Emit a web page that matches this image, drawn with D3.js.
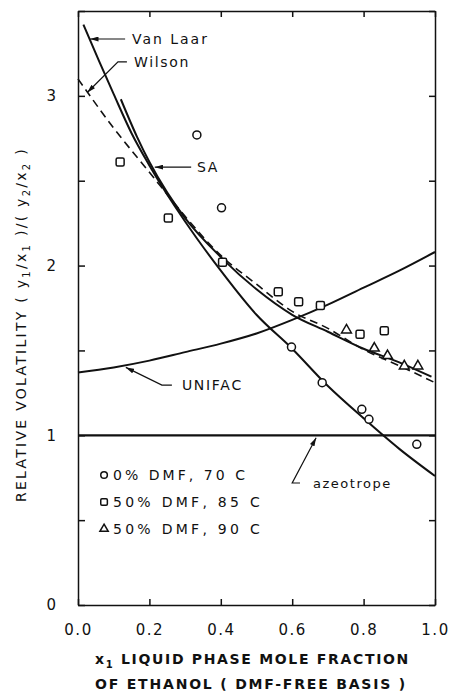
<!DOCTYPE html>
<html>
<head>
<meta charset="utf-8">
<script src="https://cdn.jsdelivr.net/npm/d3@7"></script>
<style>
  body { margin: 0; background: #fff; }
  text { font-family: "DejaVu Sans", "Liberation Sans", Arial, sans-serif; fill: #111; }
  .axis path, .axis line { stroke: #111; stroke-width: 1.5; }
  .axis text { font-size: 15px; font-family: "DejaVu Sans", "Liberation Sans", Arial, sans-serif; fill: #111; }
</style>
</head>
<body>
<div id="chart-area"></div>
<script>

// Curves (x1 = ethanol mole fraction, y = relative volatility)
var vanLaarX = [0.015, 0.06, 0.10, 0.15, 0.20, 0.30, 0.40, 0.50, 0.60, 0.70, 0.80, 0.90, 1.00];
var vanLaarY = [3.42, 3.20, 3.01, 2.78, 2.59, 2.26, 1.97, 1.71, 1.51, 1.29, 1.10, 0.92, 0.76];

var wilsonX = [0.00, 0.10, 0.20, 0.30, 0.40, 0.50, 0.60, 0.70, 0.80, 0.90, 1.00];
var wilsonY = [3.10, 2.81, 2.55, 2.29, 2.06, 1.89, 1.73, 1.63, 1.505, 1.41, 1.31];

var saX = [0.12, 0.165, 0.20, 0.25, 0.30, 0.40, 0.50, 0.60, 0.70, 0.80, 0.90, 0.99];
var saY = [2.98, 2.76, 2.61, 2.43, 2.28, 2.05, 1.86, 1.71, 1.61, 1.51, 1.43, 1.345];

var unifacX = [0.00, 0.10, 0.20, 0.30, 0.40, 0.50, 0.60, 0.70, 0.80, 0.90, 1.00];
var unifacY = [1.37, 1.40, 1.44, 1.49, 1.54, 1.60, 1.68, 1.77, 1.87, 1.97, 2.08];

var azeotropeY = 1;

// Experimental points
var dmf0X = [0.333, 0.402, 0.598, 0.684, 0.795, 0.815, 0.949];
var dmf0Y = [2.77, 2.34, 1.52, 1.31, 1.153, 1.094, 0.947];

var dmf50aX = [0.118, 0.253, 0.405, 0.561, 0.618, 0.679, 0.790, 0.858];
var dmf50aY = [2.61, 2.28, 2.02, 1.846, 1.787, 1.765, 1.595, 1.616];

var dmf50bX = [0.752, 0.830, 0.867, 0.914, 0.952];
var dmf50bY = [1.62, 1.513, 1.469, 1.408, 1.408];

var legendLabels = ["0% DMF, 70 C", "50% DMF, 85 C", "50% DMF, 90 C"];
var xTicks = [0, 0.2, 0.4, 0.6, 0.8, 1.0];
var yTicks = [0, 0.5, 1, 1.5, 2, 2.5, 3, 3.5];

var width = 450,
    height = 693;

var svg = d3.select("#chart-area").append("svg")
    .attr("width", width)
    .attr("height", height);

var x = d3.scaleLinear().domain([0, 1]).range([78, 435]);
var y = d3.scaleLinear().domain([0, 3.5]).range([605, 11]);

// stretch a text element to a wanted width with letter spacing
function fitText(t, target) {
    t.attr("letter-spacing", 0);
    var w = t.node().getComputedTextLength();
    var n = t.text().length;
    t.attr("letter-spacing", (target - w) / n);
}

// Axes, ticks pointing inward
svg.append("g").attr("class", "axis")
    .attr("transform", "translate(0," + y(0) + ")")
    .call(d3.axisBottom(x).tickValues(xTicks).tickSize(-6).tickSizeOuter(0)
        .tickPadding(19).tickFormat(d3.format(".1f")))
    .selectAll("text").attr("letter-spacing", 1.5);

svg.append("g").attr("class", "axis")
    .attr("transform", "translate(0," + y(3.5) + ")")
    .call(d3.axisTop(x).tickValues(xTicks).tickSize(-6).tickSizeOuter(0).tickFormat(""));

svg.append("g").attr("class", "axis")
    .attr("transform", "translate(" + x(0) + ",0)")
    .call(d3.axisLeft(y).tickValues(yTicks).tickSize(-7).tickSizeOuter(0).tickPadding(22)
        .tickFormat(function(d) { return d % 1 === 0 && d < 3.5 ? d : ""; }));

svg.append("g").attr("class", "axis")
    .attr("transform", "translate(" + x(1) + ",0)")
    .call(d3.axisRight(y).tickValues(yTicks).tickSize(-6).tickSizeOuter(0).tickFormat(""));

// Arrow head
svg.append("defs").append("marker")
    .attr("id", "arrow")
    .attr("viewBox", "0 0 10 6")
    .attr("refX", 10).attr("refY", 3)
    .attr("markerWidth", 9).attr("markerHeight", 5)
    .attr("markerUnits", "userSpaceOnUse")
    .attr("orient", "auto")
    .append("path").attr("d", "M0,0L10,3L0,6Z").attr("fill", "#111");

// Curves
var line = d3.line()
    .x(function(d) { return x(d[0]); })
    .y(function(d) { return y(d[1]); })
    .curve(d3.curveMonotoneX);

function pairs(xs, ys) { return xs.map(function(v, i) { return [v, ys[i]]; }); }

svg.append("line")
    .attr("x1", x(0)).attr("x2", x(1))
    .attr("y1", y(azeotropeY)).attr("y2", y(azeotropeY))
    .attr("stroke", "#111").attr("stroke-width", 2.2);

var curves = [
    { pts: pairs(vanLaarX, vanLaarY), dash: null },
    { pts: pairs(saX, saY), dash: null },
    { pts: pairs(wilsonX, wilsonY), dash: "8,5" },
    { pts: pairs(unifacX, unifacY), dash: null }
];

svg.selectAll(".curve")
    .data(curves)
    .enter()
    .append("path")
    .attr("class", "curve")
    .attr("d", function(d) { return line(d.pts); })
    .attr("fill", "none")
    .attr("stroke", "#111")
    .attr("stroke-width", function(d) { return d.dash ? 1.6 : 2; })
    .attr("stroke-dasharray", function(d) { return d.dash; });

// Points
var pointStyle = function(sel) {
    sel.attr("fill", "#fff").attr("stroke", "#111").attr("stroke-width", 1.5);
};

svg.selectAll(".p0")
    .data(pairs(dmf0X, dmf0Y))
    .enter().append("circle")
    .attr("cx", function(d) { return x(d[0]); })
    .attr("cy", function(d) { return y(d[1]); })
    .attr("r", 4)
    .call(pointStyle);

svg.selectAll(".p50a")
    .data(pairs(dmf50aX, dmf50aY))
    .enter().append("rect")
    .attr("x", function(d) { return x(d[0]) - 4; })
    .attr("y", function(d) { return y(d[1]) - 4; })
    .attr("width", 8).attr("height", 8).attr("rx", 1.5)
    .call(pointStyle);

var tri = d3.symbol().type(d3.symbolTriangle).size(42);
svg.selectAll(".p50b")
    .data(pairs(dmf50bX, dmf50bY))
    .enter().append("path")
    .attr("d", tri)
    .attr("transform", function(d) { return "translate(" + x(d[0]) + "," + y(d[1]) + ")"; })
    .call(pointStyle);

// Legend
var legY = [0.766, 0.607, 0.448];
var legX = 0.073;
svg.append("circle").attr("cx", x(legX)).attr("cy", y(legY[0])).attr("r", 3.3).call(pointStyle);
svg.append("rect").attr("x", x(legX) - 3.3).attr("y", y(legY[1]) - 3.3)
    .attr("width", 6.6).attr("height", 6.6).attr("rx", 1.2).call(pointStyle);
svg.append("path").attr("d", d3.symbol().type(d3.symbolTriangle).size(30))
    .attr("transform", "translate(" + x(legX) + "," + y(legY[2]) + ")").call(pointStyle);

var legW = [135, 150, 150];
legendLabels.forEach(function(s, i) {
    var t = svg.append("text")
        .attr("x", x(0.098)).attr("y", y(legY[i]))
        .attr("dy", "0.36em")
        .attr("font-size", 14)
        .text(s);
    fitText(t, legW[i]);
});

// Curve labels with arrows (anchors in data units)
var notes = [
    { label: "Van Laar", tx: 0.151, ty: 3.335, w: 77, size: 14,
      path: [[0.132, 3.335], [0.034, 3.335]] },
    { label: "Wilson", tx: 0.157, ty: 3.20, w: 56, size: 14,
      path: [[0.137, 3.20], [0.112, 3.20], [0.026, 3.02]] },
    { label: "SA", tx: 0.333, ty: 2.58, w: 22, size: 14,
      path: [[0.317, 2.58], [0.215, 2.58]] },
    { label: "UNIFAC", tx: 0.291, ty: 1.296, w: 61, size: 14,
      path: [[0.263, 1.296], [0.235, 1.296], [0.134, 1.40]] },
    { label: "azeotrope", tx: 0.658, ty: 0.715, w: 79, size: 13,
      path: [[0.622, 0.719], [0.600, 0.719], [0.667, 0.985]] }
];

var straight = d3.line()
    .x(function(d) { return x(d[0]); })
    .y(function(d) { return y(d[1]); });

notes.forEach(function(n) {
    svg.append("path")
        .attr("d", straight(n.path))
        .attr("fill", "none")
        .attr("stroke", "#111")
        .attr("stroke-width", 1.2)
        .attr("marker-end", "url(#arrow)");
    var t = svg.append("text")
        .attr("x", x(n.tx)).attr("y", y(n.ty))
        .attr("dy", "0.36em")
        .attr("font-size", n.size)
        .text(n.label);
    fitText(t, n.w);
});

// Axis titles
function subText(t, parts, target) {
    parts.forEach(function(p) {
        var s = t.append("tspan").text(p[0]);
        if (p[1]) s.attr("font-size", 10).attr("dy", 4);
        if (p[2]) s.attr("dy", -4);
    });
    var w = t.node().getComputedTextLength();
    var n = t.text().length;
    t.attr("letter-spacing", (target - w) / n);
}

var xt1 = svg.append("text").attr("x", 95).attr("y", 664)
    .attr("font-size", 14).attr("font-weight", "bold");
subText(xt1, [["x"], ["1", true], [" LIQUID PHASE MOLE FRACTION", false, true]], 315);

var xt2 = svg.append("text").attr("x", 95).attr("y", 689)
    .attr("font-size", 14).attr("font-weight", "bold");
subText(xt2, [["OF ETHANOL ( DMF-FREE BASIS )"]], 312);

var yt = svg.append("text")
    .attr("transform", "translate(26,502) rotate(-90)")
    .attr("font-size", 14);
subText(yt, [["RELATIVE VOLATILITY ( y"], ["1", true], ["/x", false, true], ["1", true],
    [" )/( y", false, true], ["2", true], ["/x", false, true], ["2", true], [" )", false, true]], 355);

</script>
</body>
</html>
